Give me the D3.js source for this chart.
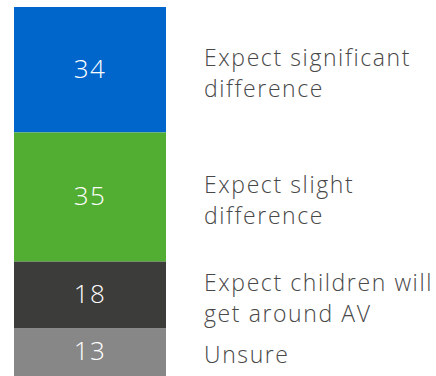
<!DOCTYPE html>
<html><head><meta charset="utf-8">
<script src="https://cdn.jsdelivr.net/npm/d3@7"></script>
<style>body{margin:0;background:#fff}svg{display:block}</style>
</head><body>
<svg id="c" width="436" height="376"></svg>
<script>
const categories = ["Expect significant difference","Expect slight difference","Expect children will get around AV","Unsure"];
const labelLines = [["Expect significant","difference"],["Expect slight","difference"],["Expect children will","get around AV"],["Unsure"]];
const values = [34,35,18,13];
const colors = ["#0066cc","#52ae32","#3c3c3b","#878787"];

const svg = d3.select("#c");
const total = d3.sum(values);
const y = d3.scaleLinear().domain([0,total]).range([7,376]);
const x0 = 14, x1 = 166;
let acc = 0;
const segs = values.map((v,i)=>{const s={v,i,start:acc,end:acc+v};acc+=v;return s;});
svg.selectAll("rect.seg").data(segs).join("rect")
  .attr("x",x0).attr("width",x1-x0)
  .attr("y",d=>y(d.start)).attr("height",d=>y(d.end)-y(d.start))
  .attr("fill",d=>colors[d.i]);
svg.selectAll("text.val").data(segs).join("text")
  .attr("x",(x0+x1)/2).attr("y",d=>(y(d.start)+y(d.end))/2 - 1)
  .attr("dy","0.36em").attr("text-anchor","middle")
  .attr("fill","#fff").attr("font-family","'Open Sans', sans-serif").attr("font-weight",300)
  .attr("font-size",26).attr("letter-spacing","1.5px").text(d=>d.v);
const lh = 31;
const g = svg.selectAll("text.lab").data(segs).join("text")
  .attr("font-family","'Open Sans', sans-serif").attr("font-weight",300)
  .attr("font-size",23).attr("fill","#484848").attr("letter-spacing","1.6px");
g.each(function(d){
  const lines = labelLines[d.i];
  const cy = (y(d.start)+y(d.end))/2 + 3;
  const top = cy - (lines.length-1)*lh/2;
  d3.select(this).selectAll("tspan").data(lines).join("tspan")
    .attr("x",204).attr("y",(l,j)=>top + j*lh).attr("dy","0.36em").text(l=>l);
});
</script>
</body></html>
